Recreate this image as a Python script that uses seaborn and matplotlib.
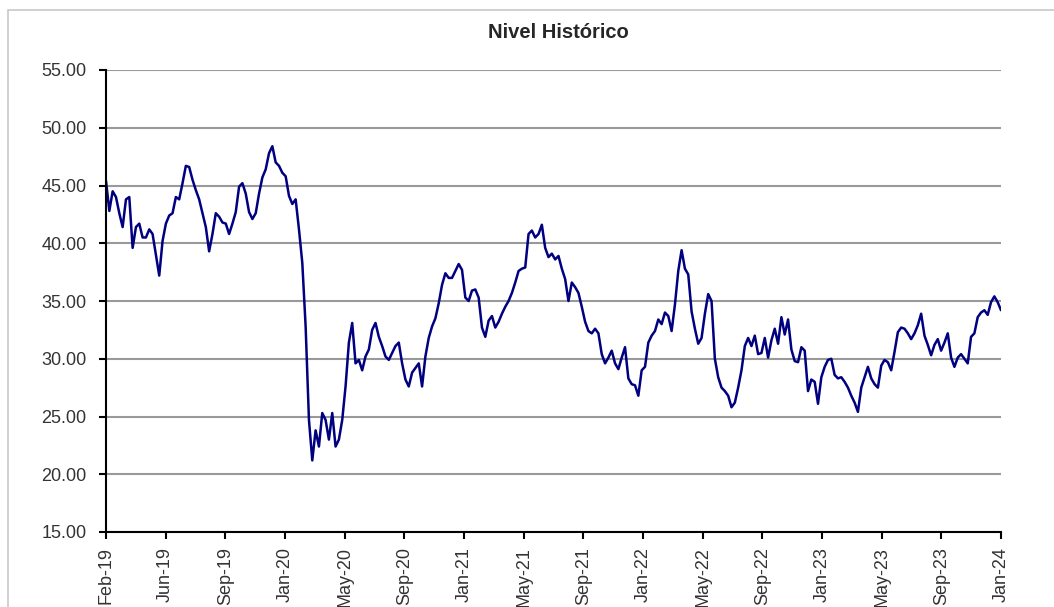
import numpy as np
import pandas as pd
import matplotlib
matplotlib.use("Agg")
import matplotlib.pyplot as plt
import seaborn as sns
from matplotlib.patches import Rectangle

# values, roughly evenly spaced along the category axis
nivel_2019 = [45.4, 42.8, 44.5, 44.0, 42.6, 41.4, 43.8, 44.0, 39.6, 41.4,
              41.7, 40.5, 40.5, 41.2, 40.8, 39.0, 37.2, 40.2, 41.7, 42.4,
              42.6, 44.0, 43.8, 45.2, 46.7, 46.6, 45.5, 44.6, 43.8, 42.6,
              41.4, 39.3, 40.8, 42.6, 42.3, 41.8, 41.7, 40.8, 41.7, 42.7,
              44.9, 45.2, 44.3, 42.7, 42.1, 42.6, 44.3, 45.7, 46.4, 47.8,
              48.4, 47.0, 46.7, 46.1]
nivel_2020 = [45.8, 44.1, 43.4, 43.8, 41.2, 38.3, 32.8, 24.7, 21.2, 23.8,
              22.4, 25.3, 24.7, 23.0, 25.3, 22.4, 23.0, 24.7, 27.6, 31.4,
              33.1, 29.6, 29.9, 29.0, 30.2, 30.8, 32.5, 33.1, 31.9, 31.1,
              30.2, 29.9, 30.5, 31.1, 31.4, 29.6, 28.2, 27.6, 28.8, 29.2,
              29.6, 27.6, 30.2, 31.8, 32.8, 33.5, 34.8, 36.4, 37.4, 37.0,
              37.0, 37.6, 38.2, 37.7]
nivel_2021 = [35.3, 35.0, 35.9, 36.0, 35.3, 32.7, 31.9, 33.3, 33.7, 32.7,
              33.2, 33.9, 34.5, 35.0, 35.7, 36.6, 37.6, 37.8, 37.9, 40.8,
              41.1, 40.5, 40.8, 41.6, 39.6, 38.8, 39.1, 38.6, 38.9, 37.8,
              36.9, 35.0, 36.6, 36.2, 35.7, 34.5, 33.2, 32.4, 32.2, 32.6,
              32.2, 30.4, 29.6, 30.1, 30.7, 29.6, 29.1, 30.1, 31.0, 28.3,
              27.8, 27.7, 26.8, 29.0]
nivel_2022 = [29.3, 31.4, 32.0, 32.4, 33.4, 33.0, 34.0, 33.7, 32.4, 34.7,
              37.6, 39.4, 37.8, 37.3, 34.1, 32.6, 31.3, 31.8, 33.9, 35.6,
              35.0, 30.0, 28.4, 27.5, 27.2, 26.8, 25.8, 26.2, 27.5, 29.0,
              31.1, 31.8, 31.1, 32.0, 30.4, 30.5, 31.8, 30.1, 31.6, 32.6,
              31.3, 33.6, 32.1, 33.4, 30.8, 29.8, 29.7, 31.0, 30.7, 27.2,
              28.2, 28.0, 26.1, 28.4]
nivel_2023 = [29.3, 29.9, 30.0, 28.6, 28.3, 28.4, 28.0, 27.5, 26.8, 26.2,
              25.4, 27.5, 28.4, 29.3, 28.3, 27.8, 27.5, 29.4, 29.9, 29.7,
              29.0, 30.6, 32.3, 32.7, 32.6, 32.2, 31.7, 32.2, 32.9, 33.9,
              32.0, 31.2, 30.3, 31.2, 31.7, 30.7, 31.4, 32.2, 30.1, 29.3,
              30.1, 30.4, 30.0, 29.6, 31.9, 32.2, 33.6, 34.0, 34.2, 33.8,
              34.9, 35.4, 34.9, 34.2]

tick_labels = ["Feb-19", "Jun-19", "Sep-19", "Jan-20", "May-20", "Sep-20",
               "Jan-21", "May-21", "Sep-21", "Jan-22", "May-22", "Sep-22",
               "Jan-23", "May-23", "Sep-23", "Jan-24"]

nivel = nivel_2019 + nivel_2020 + nivel_2021 + nivel_2022 + nivel_2023
df = pd.DataFrame({"punto": np.arange(len(nivel)), "nivel": nivel})

sns.set_style("white")
plt.rcParams["font.family"] = ["Liberation Sans", "DejaVu Sans"]

fig = plt.figure(figsize=(10.54, 6.07), dpi=100)
ax = fig.add_axes([106 / 1054, 1 - 532 / 607, 895 / 1054, 462 / 607])

# outer chart border (light gray)
fig.patches.append(Rectangle((8 / 1054, -0.1), 1.2, 1 - 10 / 607 + 0.1,
                             transform=fig.transFigure, fill=False,
                             edgecolor="#c8c8c8", linewidth=1.2))

sns.lineplot(data=df, x="punto", y="nivel", color="#000080",
             linewidth=1.8, ax=ax)

ax.set_xlim(0, len(nivel) - 1)
ax.set_ylim(15, 55)
ax.set_yticks(np.arange(15, 56, 5))
ax.set_yticklabels([f"{v:.2f}" for v in np.arange(15, 56, 5)])
ax.set_xticks(np.linspace(0, len(nivel) - 1, len(tick_labels)))
ax.set_xticklabels(tick_labels, rotation=90, va="top")

ax.grid(axis="y", color="#999999", linewidth=1.5)
ax.set_axisbelow(True)
for s in ["top", "right"]:
    ax.spines[s].set_visible(False)
for s in ["left", "bottom"]:
    ax.spines[s].set_color("black")
    ax.spines[s].set_linewidth(1.5)

ax.tick_params(axis="y", direction="out", length=5, width=1.5, color="black",
               pad=9, labelsize=13, labelcolor="#333333", left=True)
ax.tick_params(axis="x", direction="out", length=5, width=1.5, color="black",
               pad=6, labelsize=13, labelcolor="#333333", bottom=True)
ax.set_xlabel("")
ax.set_ylabel("")

fig.text(558 / 1054, 1 - 33 / 607, "Nivel Histórico", ha="center",
         va="center", fontsize=14.5, fontweight="bold")

fig.savefig("out.png", dpi=100)
